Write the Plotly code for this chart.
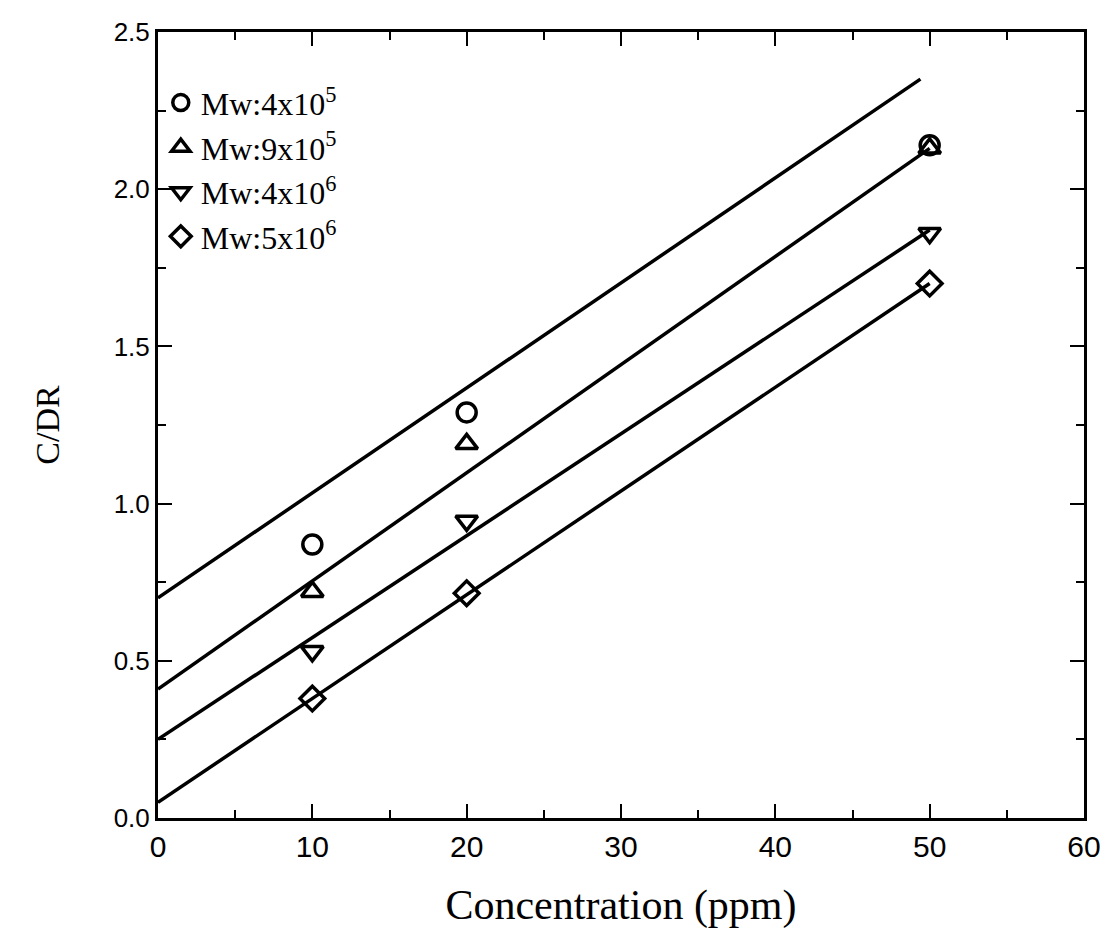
import plotly.graph_objects as go

# Data
conc = [10, 20, 50]
names = ["Mw:4x10<sup>5</sup>", "Mw:9x10<sup>5</sup>", "Mw:4x10<sup>6</sup>", "Mw:5x10<sup>6</sup>"]
cdr_4e5 = [0.87, 1.29, 2.14]
cdr_9e5 = [0.72, 1.19, 2.13]
cdr_4e6 = [0.53, 0.945, 1.86]
cdr_5e6 = [0.38, 0.715, 1.70]
symbols = ["circle-open", "triangle-up-open", "triangle-down-open", "diamond-open"]

# Fitted lines (endpoints)
fit_x = [[0, 49.4], [0, 50], [0, 50], [0, 50]]
fit_y = [[0.70, 2.35], [0.41, 2.13], [0.25, 1.87], [0.05, 1.70]]

series = [cdr_4e5, cdr_9e5, cdr_4e6, cdr_5e6]

fig = go.Figure()
for fx, fy in zip(fit_x, fit_y):
    fig.add_trace(go.Scatter(x=fx, y=fy, mode="lines", line=dict(color="black", width=3.5),
                             showlegend=False, hoverinfo="skip"))
for name, ys, sym in zip(names, series, symbols):
    fig.add_trace(go.Scatter(x=conc, y=ys, mode="markers", name=name,
                             marker=dict(symbol=sym, size=19, color="black",
                                         line=dict(color="black", width=3.5))))

axis_common = dict(showline=True, linecolor="black", linewidth=3, mirror="ticks",
                   ticks="inside", tickcolor="black", tickwidth=2, ticklen=14,
                   showgrid=False, zeroline=False)

fig.update_xaxes(range=[0, 60], dtick=10, tick0=0,
                 tickfont=dict(family="Liberation Sans Narrow, Liberation Sans", size=30, color="black"),
                 minor=dict(ticks="inside", dtick=5, ticklen=8, tickwidth=2, tickcolor="black"),
                 title=dict(text="Concentration (ppm)", font=dict(family="Liberation Serif", size=42, color="black"),
                            standoff=28),
                 **axis_common)
fig.update_yaxes(range=[0, 2.5], dtick=0.5, tick0=0, tickformat=".1f",
                 tickfont=dict(family="Liberation Sans", size=26, color="black"),
                 minor=dict(ticks="inside", dtick=0.25, ticklen=8, tickwidth=2, tickcolor="black"),
                 title=dict(text="C/DR", font=dict(family="Liberation Serif", size=34, color="black"),
                            standoff=44),
                 **axis_common)

fig.update_layout(
    width=1112, height=944,
    margin=dict(l=158, r=28, t=32, b=126),
    plot_bgcolor="white", paper_bgcolor="white",
    legend=dict(x=0.003, y=0.945, xanchor="left", yanchor="top",
                font=dict(family="Liberation Serif", size=32, color="black"),
                bgcolor="rgba(0,0,0,0)", tracegroupgap=10, itemwidth=30),
)

fig.write_html("out.html")
